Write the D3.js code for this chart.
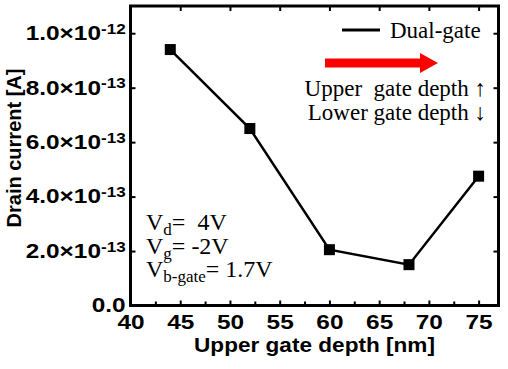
<!DOCTYPE html>
<meta charset="utf-8">
<style>
body { margin: 0; background: #fff; }
svg { display: block; }
.tick text { font-family: Arial, "Liberation Sans", sans-serif; font-weight: bold; font-size: 20px; fill: #000; }
.title { font-family: Arial, "Liberation Sans", sans-serif; font-weight: bold; font-size: 20px; fill: #000; }
.serif { font-family: "Times New Roman", "Liberation Serif", serif; fill: #000; }
</style>
<svg width="508" height="369"></svg>
<script src="https://d3js.org/d3.v7.min.js"></script>
<script>
// upper gate depth [nm] vs drain current [A]
var depths  = [44, 52, 60, 68, 75];
var current = [9.4e-13, 6.5e-13, 2.05e-13, 1.5e-13, 4.75e-13];
var xTicks  = [40, 45, 50, 55, 60, 65, 70, 75];
var xMinor  = [42.5, 47.5, 52.5, 57.5, 62.5, 67.5, 72.5];
var yTicks  = [0, 2e-13, 4e-13, 6e-13, 8e-13, 1e-12];

var svg = d3.select("svg");
var pLeft = 130.5, pRight = 498.5, pTop = 6, pBottom = 305.5;
var stretch = 1.22; // tick labels in the original are drawn wide

var x = d3.scaleLinear().domain([40, 77]).range([pLeft, pRight]);
var y = d3.scaleLinear().domain([0, 1.1e-12]).range([pBottom, pTop]);

// bottom axis, major + minor ticks inward
var gx = svg.append("g")
    .attr("transform", "translate(0," + pBottom + ")")
    .call(d3.axisBottom(x).tickValues(xTicks).tickSizeInner(-5).tickSizeOuter(0).tickPadding(9));
svg.append("g")
    .attr("transform", "translate(0," + pBottom + ")")
    .call(d3.axisBottom(x).tickValues(xMinor).tickSizeInner(-4).tickSizeOuter(0).tickFormat(""));
svg.append("g")
    .attr("transform", "translate(0," + pTop + ")")
    .call(d3.axisTop(x).tickValues(xTicks).tickSizeInner(-5).tickSizeOuter(0).tickFormat(""));

var gy = svg.append("g")
    .attr("transform", "translate(" + pLeft + ",0)")
    .call(d3.axisLeft(y).tickValues(yTicks).tickSizeInner(-5).tickSizeOuter(0).tickPadding(4).tickFormat(""));
svg.append("g")
    .attr("transform", "translate(" + pRight + ",0)")
    .call(d3.axisRight(y).tickValues(yTicks).tickSizeInner(-5).tickSizeOuter(0).tickFormat(""));

svg.selectAll(".domain").remove();
svg.selectAll(".tick line").attr("stroke", "#000").attr("stroke-width", 2);
gx.selectAll(".tick text").attr("transform", "scale(" + stretch + ",1)");

// y tick labels with scientific notation
gy.selectAll(".tick text").each(function(d) {
    var t = d3.select(this);
    t.attr("transform", "scale(" + stretch + ",1)");
    if (d === 0) { t.text("0.0"); return; }
    var e = Math.floor(Math.log10(d) + 1e-9);
    var m = d / Math.pow(10, e);
    t.append("tspan").text(m.toFixed(1) + "\u00d710");
    t.append("tspan").attr("dy", "-0.45em").style("font-size", "14px").text(e);
});

// frame
svg.append("rect")
    .attr("x", pLeft).attr("y", pTop)
    .attr("width", pRight - pLeft).attr("height", pBottom - pTop)
    .attr("fill", "none").attr("stroke", "#000").attr("stroke-width", 3);

// data
var pts = depths.map(function(d, i) { return [d, current[i]]; });
svg.append("path")
    .datum(pts)
    .attr("fill", "none").attr("stroke", "#000").attr("stroke-width", 2.5)
    .attr("d", d3.line().x(function(d) { return x(d[0]); }).y(function(d) { return y(d[1]); }));
svg.selectAll("rect.pt")
    .data(pts)
    .enter().append("rect")
    .attr("class", "pt")
    .attr("x", function(d) { return x(d[0]) - 5.5; })
    .attr("y", function(d) { return y(d[1]) - 5.5; })
    .attr("width", 11).attr("height", 11)
    .attr("fill", "#000");

// axis titles
svg.append("text").attr("class", "title")
    .attr("transform", "translate(" + ((pLeft + pRight) / 2) + ",352) scale(1.13,1)")
    .attr("text-anchor", "middle")
    .text("Upper gate depth [nm]");
svg.append("text").attr("class", "title")
    .attr("transform", "translate(21,148) rotate(-90)")
    .attr("text-anchor", "middle")
    .text("Drain current [A]");

// legend
svg.append("line")
    .attr("x1", 342).attr("x2", 380).attr("y1", 30).attr("y2", 30)
    .attr("stroke", "#000").attr("stroke-width", 3);
svg.append("text").attr("class", "serif")
    .attr("x", 390).attr("y", 38).style("font-size", "23px")
    .text("Dual-gate");

// red arrow
svg.append("path")
    .attr("d", "M325,58.5 L420,58.5 L420,53 L438,63 L420,73 L420,67.5 L325,67.5 Z")
    .attr("fill", "#ff0000");

svg.append("text").attr("class", "serif")
    .attr("x", 486).attr("y", 96).attr("text-anchor", "end").style("font-size", "23px")
    .attr("xml:space", "preserve")
    .text("Upper  gate depth \u2191");
svg.append("text").attr("class", "serif")
    .attr("x", 486).attr("y", 120).attr("text-anchor", "end").style("font-size", "23px")
    .text("Lower gate depth \u2193");

// bias conditions
var notes = [["d", "=  4V"], ["g", "= -2V"], ["b-gate", "= 1.7V"]];
notes.forEach(function(n, i) {
    var t = svg.append("text").attr("class", "serif")
        .attr("x", 146).attr("y", 230 + i * 23.5)
        .attr("xml:space", "preserve")
        .style("font-size", "24px");
    t.append("tspan").text("V");
    t.append("tspan").attr("dy", 5).style("font-size", "17px").text(n[0]);
    t.append("tspan").attr("dy", -5).text(n[1]);
});
</script>
